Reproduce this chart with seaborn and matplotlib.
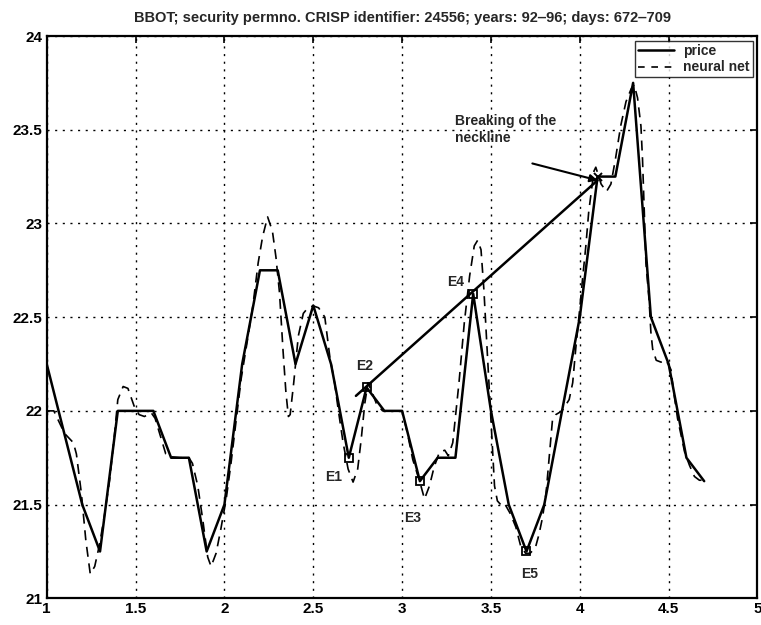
import numpy as np
import pandas as pd
import matplotlib
matplotlib.use("Agg")
import matplotlib.pyplot as plt
import seaborn as sns

# closing price, one point per trading day
price_x = [1.0, 1.1, 1.2, 1.3, 1.4, 1.5, 1.6, 1.7, 1.8, 1.9,
           2.0, 2.1, 2.2, 2.3, 2.4, 2.5, 2.6, 2.7, 2.8, 2.9,
           3.0, 3.1, 3.2, 3.3, 3.4, 3.5, 3.6, 3.7, 3.8, 3.9,
           4.0, 4.1, 4.2, 4.3, 4.4, 4.5, 4.6, 4.7]
price_y = [22.25, 21.875, 21.5, 21.25, 22.0, 22.0, 22.0, 21.75, 21.75, 21.25,
           21.5, 22.25, 22.75, 22.75, 22.25, 22.5625, 22.25, 21.75, 22.125, 22.0,
           22.0, 21.625, 21.75, 21.75, 22.625, 22.0, 21.5, 21.25, 21.5, 22.0,
           22.5, 23.25, 23.25, 23.75, 22.5, 22.25, 21.75, 21.625]

# neural-net smoothed series
nn_x = [1.000, 1.040, 1.070, 1.100, 1.130, 1.150, 1.167, 1.195, 1.220, 1.245,
        1.270, 1.298, 1.326, 1.354, 1.382, 1.400, 1.430, 1.457, 1.494, 1.520,
        1.550, 1.588, 1.610, 1.635, 1.670, 1.700, 1.750, 1.800, 1.820, 1.850,
        1.878, 1.906, 1.925, 1.953, 1.980, 2.010, 2.037, 2.066, 2.094, 2.130,
        2.160, 2.190, 2.215, 2.243, 2.270, 2.290, 2.310, 2.330, 2.346, 2.360,
        2.370, 2.390, 2.416, 2.444, 2.470, 2.500, 2.530, 2.565, 2.593, 2.620,
        2.640, 2.668, 2.696, 2.724, 2.750, 2.770, 2.790, 2.808, 2.830, 2.855,
        2.890, 3.000, 3.030, 3.060, 3.100, 3.126, 3.154, 3.180, 3.210, 3.240,
        3.260, 3.285, 3.320, 3.350, 3.380, 3.406, 3.425, 3.444, 3.460, 3.480,
        3.500, 3.510, 3.520, 3.536, 3.564, 3.580, 3.610, 3.640, 3.667, 3.695,
        3.720, 3.750, 3.770, 3.790, 3.810, 3.830, 3.846, 3.865, 3.900, 3.940,
        3.960, 3.977, 3.996, 4.015, 4.034, 4.050, 4.070, 4.080, 4.090, 4.120,
        4.150, 4.175, 4.200, 4.230, 4.260, 4.290, 4.306, 4.325, 4.344, 4.353,
        4.363, 4.372, 4.390, 4.400, 4.410, 4.430, 4.457, 4.485, 4.513, 4.530,
        4.550, 4.570, 4.590, 4.617, 4.645, 4.673, 4.690]
nn_y = [22.00, 22.00, 21.94, 21.88, 21.85, 21.83, 21.77, 21.56, 21.31, 21.13,
        21.17, 21.29, 21.45, 21.63, 21.88, 22.06, 22.13, 22.12, 22.02, 21.98,
        21.97, 21.99, 21.96, 21.88, 21.77, 21.755, 21.75, 21.75, 21.72, 21.60,
        21.42, 21.22, 21.17, 21.24, 21.37, 21.53, 21.72, 21.95, 22.17, 22.38,
        22.56, 22.79, 22.93, 23.035, 22.96, 22.82, 22.63, 22.32, 22.10, 21.97,
        21.98, 22.15, 22.40, 22.52, 22.55, 22.56, 22.55, 22.50, 22.29, 22.15,
        22.01, 21.83, 21.69, 21.62, 21.69, 21.85, 22.04, 22.15, 22.10, 22.04,
        22.00, 22.00, 21.88, 21.74, 21.62, 21.53, 21.60, 21.70, 21.78, 21.79,
        21.76, 21.83, 22.15, 22.47, 22.72, 22.88, 22.91, 22.86, 22.65, 22.30,
        21.96, 21.78, 21.60, 21.52, 21.49, 21.50, 21.45, 21.38, 21.28, 21.24,
        21.24, 21.27, 21.34, 21.43, 21.56, 21.78, 21.95, 21.98, 22.00, 22.06,
        22.15, 22.33, 22.51, 22.70, 22.88, 23.06, 23.21, 23.28, 23.30, 23.21,
        23.17, 23.21, 23.34, 23.52, 23.65, 23.72, 23.74, 23.67, 23.52, 23.34,
        23.06, 22.79, 22.59, 22.42, 22.33, 22.27, 22.26, 22.27, 22.22, 22.09,
        21.96, 21.87, 21.78, 21.71, 21.65, 21.63, 21.63]

# head-and-shoulders extreme points
extreme_labels = ["E1", "E2", "E3", "E4", "E5"]
extreme_x = [2.7, 2.8, 3.1, 3.4, 3.7]
extreme_y = [21.75, 22.125, 21.625, 22.625, 21.25]

# neckline and its breaking point
neck_x = [2.74, 4.10]
neck_y = [22.08, 23.23]
break_x, break_y = 4.10, 23.25

title = "BBOT; security permno. CRISP identifier: 24556; years: 92\u201296; days: 672\u2012709"

sns.set_style("white")
plt.rcParams["font.family"] = ["Liberation Sans", "DejaVu Sans"]

fig = plt.figure(figsize=(7.61, 6.25), dpi=100)
ax = fig.add_axes([0.0614, 0.0427, 0.934, 0.8997])

price_df = pd.DataFrame({"x": price_x, "y": price_y})
nn_df = pd.DataFrame({"x": nn_x, "y": nn_y})

sns.lineplot(data=price_df, x="x", y="y", ax=ax, color="black",
             linewidth=1.8, label="price", sort=False)
sns.lineplot(data=nn_df, x="x", y="y", ax=ax, color="black",
             linewidth=1.2, label="neural net", sort=False)
ax.lines[1].set_dashes([6, 4])

# neckline
ax.plot(neck_x, neck_y, color="black", linewidth=1.8)
ax.plot([break_x], [break_y], marker="x", color="black", markersize=6,
        markeredgewidth=1.4)

# extreme markers and labels
ax.plot(extreme_x, extreme_y, linestyle="none", marker="s", markersize=6,
        markerfacecolor="none", markeredgecolor="black", markeredgewidth=1.3)
label_pos = [(2.612, 21.645), (2.79, 22.24), (3.06, 21.43), (3.30, 22.69), (3.72, 21.13)]
for lab, (lx, ly) in zip(extreme_labels, label_pos):
    ax.text(lx, ly, lab, ha="center", va="center", fontsize=10, fontweight="bold")

ax.annotate("", xy=(4.10, 23.23), xytext=(3.733, 23.32),
            arrowprops=dict(arrowstyle="-|>", color="black", lw=1.5,
                            mutation_scale=11, shrinkA=0, shrinkB=0))
ax.text(3.30, 23.50, "Breaking of the\nneckline", fontsize=10, fontweight="bold",
        ha="left", va="center", linespacing=1.25)

ax.set_xlim(1, 5)
ax.set_ylim(21, 24)
ax.set_xticks([1, 1.5, 2, 2.5, 3, 3.5, 4, 4.5, 5])
ax.set_xticklabels(["1", "1.5", "2", "2.5", "3", "3.5", "4", "4.5", "5"])
ax.set_yticks([21, 21.5, 22, 22.5, 23, 23.5, 24])
ax.set_yticklabels(["21", "21.5", "22", "22.5", "23", "23.5", "24"])
ax.set_xlabel("")
ax.set_ylabel("")
ax.grid(True, color="black", linestyle=(0, (1.5, 4)), linewidth=1.0)
ax.tick_params(direction="in", length=5, width=1.2, top=True, right=True,
               labelsize=11, pad=3, colors="black")
for t in ax.get_xticklabels() + ax.get_yticklabels():
    t.set_fontweight("bold")
for s in ax.spines.values():
    s.set_visible(True)
    s.set_color("black")
    s.set_linewidth(1.6)

ax.set_title(title, fontsize=10.5, fontweight="bold", pad=10)

leg = ax.legend(loc="upper right", frameon=True, fancybox=False,
                borderaxespad=0.35, handlelength=2.6, borderpad=0.2,
                labelspacing=0.2, handletextpad=0.7,
                prop={"weight": "bold", "size": 10})
leg.get_frame().set_edgecolor("black")
leg.get_frame().set_linewidth(1.0)
leg.get_lines()[1].set_dashes([4, 4])

fig.savefig("out.png", dpi=100)
